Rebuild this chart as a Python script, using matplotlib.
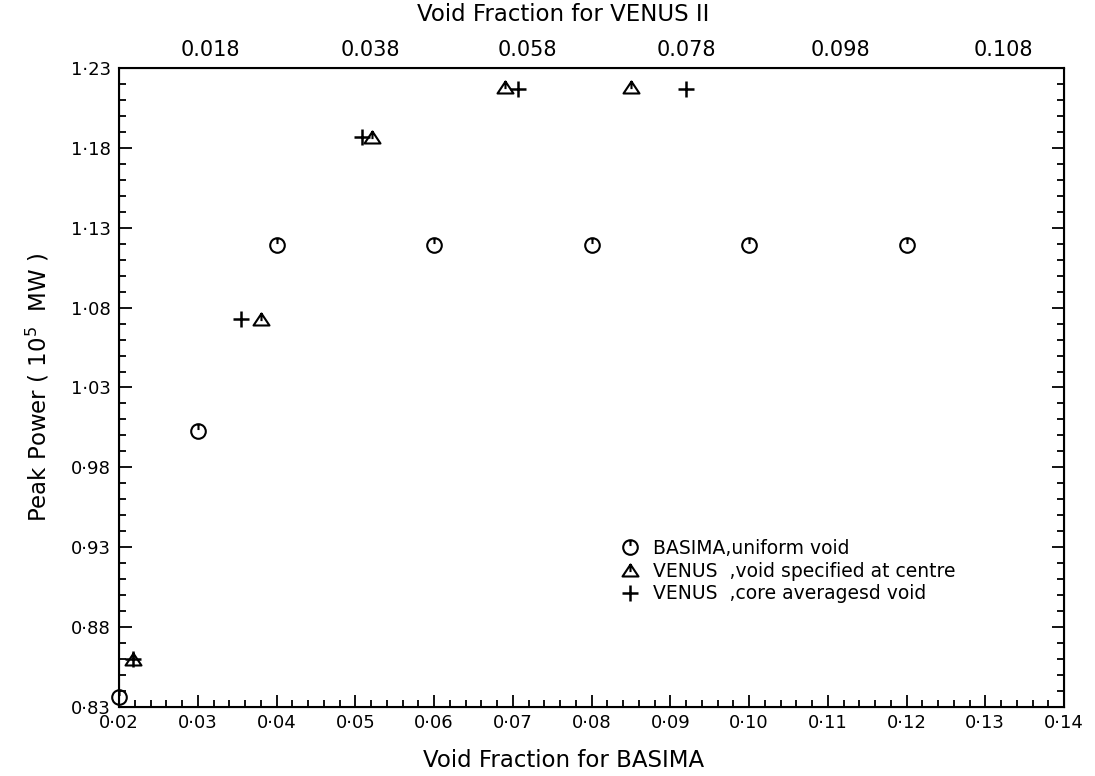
import matplotlib
matplotlib.use('Agg')
import matplotlib.pyplot as plt
from matplotlib.path import Path
from matplotlib.ticker import MultipleLocator, FuncFormatter

plt.rcParams.update({'font.size': 12, 'font.family': 'DejaVu Sans'})

# -------------------------------------------------------------------------------
# values

basima_x = [0.02, 0.03, 0.04, 0.06, 0.08, 0.10, 0.12]
basima_y = [0.836, 1.003, 1.119, 1.119, 1.119, 1.119, 1.119]

venus_centre_x = [0.0218, 0.0380, 0.0521, 0.0690, 0.0850]
venus_centre_y = [0.860, 1.073, 1.187, 1.218, 1.218]

venus_avg_x = [0.0218, 0.0355, 0.0509, 0.0707, 0.0920]
venus_avg_y = [0.860, 1.073, 1.187, 1.217, 1.217]

# top axis (VENUS II) labels and where they sit on the BASIMA scale
venus_tick_labels = ['0.018', '0.038', '0.058', '0.078', '0.098', '0.108']
venus_tick_pos = [0.0316, 0.0519, 0.0719, 0.0921, 0.1116, 0.1323]

# -------------------------------------------------------------------------------
# plotter style symbols: circle / triangle with a little stroke inside

circ = Path.make_compound_path(
    Path.unit_circle(),
    Path([[0, 1], [0, 0.2]], [Path.MOVETO, Path.LINETO]))
tri = Path([[-1, -0.75], [1, -0.75], [0, 0.75], [-1, -0.75],
            [0, 0.75], [0, -0.2]],
           [Path.MOVETO, Path.LINETO, Path.LINETO, Path.CLOSEPOLY,
            Path.MOVETO, Path.LINETO])

dotfmt = FuncFormatter(lambda v, p: '{:.2f}'.format(v).replace('.', '\u00b7'))

fig = plt.figure(figsize=(10.95, 7.76), dpi=100)
ax = fig.add_axes([0.1087, 0.0889, 0.8630, 0.8235])

ax.plot(basima_x, basima_y, ls='none', marker=circ, ms=10.5, mfc='none',
        mec='black', mew=1.5, clip_on=False, label='BASIMA,uniform void')
ax.plot(venus_centre_x, venus_centre_y, ls='none', marker=tri, ms=11.5, mfc='none',
        mec='black', mew=1.5, clip_on=False, label='VENUS  ,void specified at centre')
ax.plot(venus_avg_x, venus_avg_y, ls='none', marker='+', ms=12,
        mec='black', mew=1.8, clip_on=False, label='VENUS  ,core averagesd void')

ax.set_xlim(0.02, 0.14)
ax.set_ylim(0.83, 1.23)
ax.xaxis.set_major_locator(MultipleLocator(0.01))
ax.xaxis.set_minor_locator(MultipleLocator(0.002))
ax.yaxis.set_major_locator(MultipleLocator(0.05, offset=0.03))
ax.yaxis.set_minor_locator(MultipleLocator(0.01))
ax.xaxis.set_major_formatter(dotfmt)
ax.yaxis.set_major_formatter(dotfmt)

ax.tick_params(which='both', direction='in', top=True, right=True, width=1.3, labelsize=13)
ax.tick_params(which='major', length=9)
ax.tick_params(which='minor', length=5)
ax.tick_params(axis='x', pad=5)
ax.tick_params(axis='y', pad=6)
for sp in ax.spines.values():
    sp.set_linewidth(1.5)

ax.set_xlabel('Void Fraction for BASIMA', fontsize=16.5)
ax.xaxis.set_label_coords(0.47, -0.066)
ax.set_ylabel('Peak Power ( 10$^{5}$  MW )', fontsize=16.5)
ax.yaxis.set_label_coords(-0.072, 0.5)

# top axis: labels only, the tick marks come from the main axis
ax2 = ax.twiny()
ax2.set_xlim(ax.get_xlim())
ax2.set_xticks(venus_tick_pos)
ax2.set_xticklabels(venus_tick_labels)
ax2.tick_params(axis='x', length=0, pad=6, labelsize=15)
ax2.set_xlabel('Void Fraction for VENUS II', fontsize=16.5)
ax2.xaxis.set_label_coords(0.47, 1.073)

ax.legend(loc='upper left', bbox_to_anchor=(0.531, 0.263), frameon=False,
          fontsize=13.5, handlelength=1.0, handletextpad=0.7, labelspacing=0.2,
          borderpad=0, borderaxespad=0)

plt.savefig('out.png', dpi=100)
